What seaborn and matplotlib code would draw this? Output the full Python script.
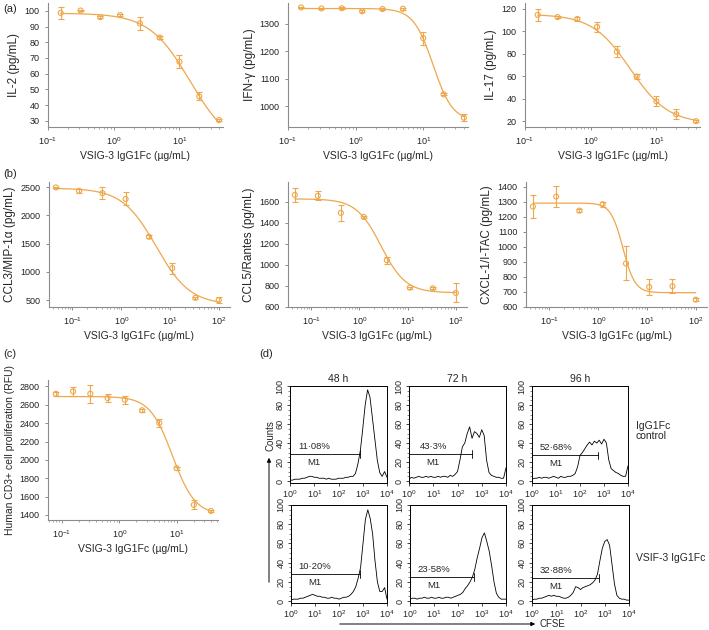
import numpy as np
import pandas as pd
import matplotlib
matplotlib.use('Agg')
import matplotlib.pyplot as plt
from matplotlib.patches import FancyArrowPatch
from matplotlib.ticker import MultipleLocator, NullFormatter
import seaborn as sns

W, H = 709, 630
ORANGE = '#EFA74B'
GREY = '#8c8c8c'

# (a) two-fold dilution series (ug/mL)
dose_a = [0.156, 0.3125, 0.625, 1.25, 2.5, 5, 10, 20, 40]
il2 = [98.7, 100.2, 96.0, 97.3, 92.0, 83.0, 67.6, 45.5, 30.4]
il2_err = [4.0, 0.4, 0.6, 0.5, 4.0, 0.8, 4.0, 2.5, 0.6]
ifng = [1360, 1356, 1357, 1346, 1354, 1355, 1248, 1043, 958]
ifng_err = [3, 3, 3, 3, 3, 3, 24, 4, 13]
il17 = [114.5, 112.5, 110.8, 103.8, 81.8, 59.8, 37.8, 26.3, 20.2]
il17_err = [5.5, 1.0, 1.5, 4.5, 5.0, 2.5, 4.5, 4.5, 0.8]

# (b) three-fold dilution series (ug/mL)
dose_b = [0.0457, 0.137, 0.412, 1.23, 3.70, 11.1, 33.3, 100]
ccl3 = [2494, 2434, 2393, 2290, 1622, 1067, 542, 500]
ccl3_err = [15, 30, 105, 115, 25, 95, 15, 48]
ccl5 = [1663, 1654, 1492, 1454, 1043, 784, 777, 733]
ccl5_err = [66, 43, 76, 10, 32, 10, 10, 90]
cxcl = [1267, 1333, 1240, 1282, 889, 733, 738, 649]
cxcl_err = [74, 72, 10, 15, 113, 50, 48, 12]

# (c) proliferation
dose_c = [0.078, 0.156, 0.3125, 0.625, 1.25, 2.5, 5, 10, 20, 40]
cd3 = [2720, 2746, 2720, 2673, 2655, 2540, 2402, 1910, 1510, 1444]
cd3_err = [20, 45, 100, 42, 45, 15, 43, 15, 50, 15]

# four-parameter logistic fits: bottom, top, EC50, hill
il2_fit = [12, 98.5, 14.5, 1.4]
ifng_fit = [945, 1356, 14, 3.0]
il17_fit = [18, 115, 4.0, 1.5]
ccl3_fit = [420, 2480, 5.2, 1.25]
ccl5_fit = [735, 1625, 2.8, 1.7]
cxcl_fit = [695, 1290, 3.2, 3.5]
cd3_fit = [1400, 2690, 8.5, 2.2]

# (d) CFSE histograms, counts per 0.1-decade channel from 10^0 to 10^4
cfse_log = np.round(np.arange(0, 4.05, 0.1), 2)
h48_ctrl = [1, 1, 2, 2, 2, 3, 3, 4, 5, 5, 4, 4, 3, 3, 3, 2, 3, 2, 2, 2, 3, 3, 3, 4, 4, 5,
            5, 8, 18, 32, 55, 80, 96, 88, 66, 44, 22, 9, 5, 10, 4]
h72_ctrl = [2, 4, 3, 4, 5, 4, 4, 5, 4, 5, 4, 4, 5, 4, 5, 5, 4, 6, 5, 7,
            10, 22, 36, 40, 50, 57, 45, 52, 50, 46, 54, 48, 22, 9, 6, 5, 4, 4, 3, 3, 14]
h96_ctrl = [2, 3, 3, 4, 3, 4, 4, 3, 4, 5, 4, 3, 5, 4, 4, 5, 5, 6, 8,
            15, 27, 30, 34, 38, 41, 38, 42, 40, 43, 39, 44, 40, 22, 13, 11, 9, 8, 6, 5, 5, 16]
h48_vsig = [1, 2, 2, 2, 3, 3, 4, 5, 6, 7, 6, 5, 5, 4, 4, 3, 3, 4, 3, 3, 2, 3, 4, 4,
            5, 7, 10, 15, 24, 35, 60, 85, 95, 86, 70, 42, 20, 10, 10, 14, 2]
h72_vsig = [2, 3, 3, 2, 3, 3, 4, 3, 3, 4, 3, 3, 4, 3, 3, 4, 4, 3, 4, 5,
            6, 7, 9, 13, 16, 20, 25, 33, 45, 55, 66, 71, 62, 52, 37, 20, 8, 4, 2, 2, 2]
h96_vsig = [1, 2, 2, 3, 3, 4, 5, 6, 5, 6, 5, 5, 4, 3, 3, 4, 6,
            9, 15, 14, 12, 14, 15, 16, 17, 19, 22, 28, 42, 55, 62, 64, 58, 38, 18, 6, 3, 2, 2, 1, 1]
gate_level = [28.5, 28.6, 27, 28.3, 25, 24]
gate_end = [760, 380, 575, 775, 457, 589]
gate_pct = ['11\u00b708%', '43\u00b73%', '52\u00b768%', '10\u00b720%', '23\u00b758%', '32\u00b788%']

sns.set_style('ticks')
plt.rcParams['font.family'] = ['Liberation Sans', 'DejaVu Sans']
plt.rcParams['mathtext.default'] = 'regular'

fig = plt.figure(figsize=(W / 100, H / 100), dpi=100)


def add_axes(left, top, right, bottom):
    return fig.add_axes([left / W, 1 - bottom / H, (right - left) / W, (bottom - top) / H])


def dose_panel(box, dose, vals, errs, fit, ylabel, xlim, ylim, yticks, ylabel_size=8.5):
    ax = add_axes(*box)
    xs = np.geomspace(dose[0], dose[-1], 300)
    lo, hi, ec50, hill = fit
    curve = pd.DataFrame({'dose': xs, 'val': lo + (hi - lo) / (1 + (xs / ec50) ** hill)})
    pts = pd.DataFrame({'dose': dose, 'val': vals})
    sns.lineplot(data=curve, x='dose', y='val', ax=ax, color=ORANGE, lw=0.9)
    ax.errorbar(dose, vals, yerr=errs, fmt='none', ecolor=ORANGE, elinewidth=0.8,
                capsize=2, capthick=0.8)
    sns.scatterplot(data=pts, x='dose', y='val', ax=ax, marker='o', s=13,
                    facecolor='none', edgecolor=ORANGE, linewidth=0.8, zorder=3)
    ax.set_xscale('log')
    ax.set_xlim(*xlim)
    ax.set_ylim(*ylim)
    ax.set_yticks(yticks)
    ax.set_xlabel('VSIG-3 IgG1Fc (\u00b5g/mL)', fontsize=7.5, labelpad=3)
    ax.set_ylabel(ylabel, fontsize=ylabel_size, labelpad=3)
    ax.tick_params(labelsize=6.5, colors=GREY, labelcolor='#222222', width=0.7, length=2.5)
    ax.tick_params(which='minor', colors=GREY, width=0.5, length=1.5)
    for side in ['left', 'bottom']:
        ax.spines[side].set_color(GREY)
        ax.spines[side].set_linewidth(0.8)
    sns.despine(ax=ax)
    return ax


xl_a = (0.1, 46)
xl_b = (0.033, 170)
dose_panel((48, 3, 223, 127), dose_a, il2, il2_err, il2_fit, 'IL-2 (pg/mL)',
           xl_a, (26, 105), range(30, 101, 10))
dose_panel((288, 3, 468, 127), dose_a, ifng, ifng_err, ifng_fit, 'IFN-\u03b3 (pg/mL)',
           xl_a, (924, 1376), range(1000, 1301, 100))
dose_panel((525, 3, 700, 127), dose_a, il17, il17_err, il17_fit, 'IL-17 (pg/mL)',
           xl_a, (15, 125), range(20, 121, 20))
dose_panel((49, 182, 230, 307), dose_b, ccl3, ccl3_err, ccl3_fit, 'CCL3/MIP-1\u03b1 (pg/mL)',
           xl_b, (380, 2590), range(500, 2501, 500))
dose_panel((288, 182, 467, 307), dose_b, ccl5, ccl5_err, ccl5_fit, 'CCL5/Rantes (pg/mL)',
           xl_b, (600, 1785), range(600, 1601, 200))
dose_panel((526, 182, 707, 307), dose_b, cxcl, cxcl_err, cxcl_fit, 'CXCL-1/I-TAC (pg/mL)',
           xl_b, (600, 1430), range(600, 1401, 100))
dose_panel((48, 380, 218, 520), dose_c, cd3, cd3_err, cd3_fit,
           'Human CD3+ cell proliferation (RFU)', (0.057, 53), (1345, 2870),
           range(1400, 2801, 200), ylabel_size=7.5)


def flow_panel(box, counts, i, title=None):
    ax = add_axes(*box)
    df = pd.DataFrame({'cfse': 10 ** cfse_log, 'counts': counts})
    sns.lineplot(data=df, x='cfse', y='counts', ax=ax, color='black', lw=0.6)
    ax.set_xscale('log')
    ax.set_xlim(1, 1e4)
    ax.set_ylim(-2, 100)
    ax.set_xticks([1, 10, 100, 1000, 10000])
    ax.set_yticks(range(0, 101, 20))
    ax.yaxis.set_minor_locator(MultipleLocator(5))
    ax.xaxis.set_minor_formatter(NullFormatter())
    ax.set_xlabel('')
    ax.set_ylabel('')
    ax.tick_params(labelsize=6.5, width=0.6, length=2.5, pad=1.5)
    ax.tick_params(which='minor', width=0.4, length=1.3)
    ax.tick_params(axis='y', labelrotation=90)
    for lab in ax.get_yticklabels():
        lab.set_va('center')
    for sp in ax.spines.values():
        sp.set_linewidth(0.7)
        sp.set_color('black')
    lvl, end = gate_level[i], gate_end[i]
    ax.plot([1, end], [lvl, lvl], color='black', lw=0.6)
    ax.plot([end, end], [lvl - 4, lvl + 4], color='black', lw=0.6)
    ax.text(10 ** 1.0, lvl + 8, gate_pct[i], ha='center', va='center', fontsize=6.8)
    ax.text(10 ** 1.0, lvl - 9, 'M1', ha='center', va='center', fontsize=6.8)
    if title:
        ax.set_title(title, fontsize=7.5, pad=3)
    return ax


flow_panel((290, 386, 387, 483), h48_ctrl, 0, '48 h')
flow_panel((409, 386, 506, 483), h72_ctrl, 1, '72 h')
flow_panel((532, 386, 628, 483), h96_ctrl, 2, '96 h')
flow_panel((291, 505, 387, 603), h48_vsig, 3)
flow_panel((410, 505, 506, 603), h72_vsig, 4)
flow_panel((532, 505, 629, 603), h96_vsig, 5)

# axis arrows for the flow panels
fig.add_artist(FancyArrowPatch((269 / W, 1 - 585 / H), (269 / W, 1 - 455 / H),
                               transform=fig.transFigure, arrowstyle='-|>',
                               mutation_scale=6, lw=0.7, color='black'))
fig.add_artist(FancyArrowPatch((337 / W, 1 - 624 / H), (538 / W, 1 - 624 / H),
                               transform=fig.transFigure, arrowstyle='-|>',
                               mutation_scale=6, lw=0.7, color='black'))
fig.text(270 / W, 1 - 436 / H, 'Counts', rotation=90, ha='center', va='center', fontsize=7)
fig.text(540 / W, 1 - 624 / H, 'CFSE', ha='left', va='center', fontsize=7)
fig.text(636 / W, 1 - 431 / H, 'IgG1Fc\ncontrol', ha='left', va='center', fontsize=7.5,
         linespacing=1.1)
fig.text(636 / W, 1 - 558 / H, 'VSIF-3 IgG1Fc', ha='left', va='center', fontsize=7.5)

for lab, x, y in [('(a)', 3, 9), ('(b)', 3, 174), ('(c)', 3, 354), ('(d)', 259, 354)]:
    fig.text(x / W, 1 - y / H, lab, ha='left', va='center', fontsize=8)

fig.savefig('out.png', dpi=100)
